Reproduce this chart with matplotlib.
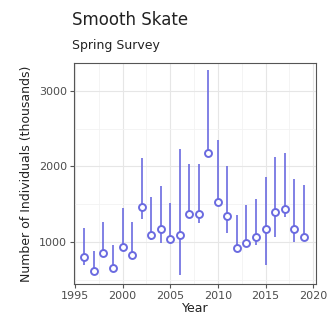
import numpy as np
import matplotlib.pyplot as plt
from matplotlib.ticker import MultipleLocator

# survey index by year
years = [1996, 1997, 1998, 1999, 2000, 2001, 2002, 2003, 2004, 2005, 2006, 2007,
         2008, 2009, 2010, 2011, 2012, 2013, 2014, 2015, 2016, 2017, 2018, 2019]
index = [797, 616, 850, 651, 934, 828, 1468, 1093, 1168, 1036, 1093, 1371,
         1371, 2175, 1534, 1349, 916, 982, 1071, 1168, 1390, 1433, 1168, 1071]
lower = [695, 580, 800, 620, 880, 800, 1300, 1026, 980, 1000, 563, 1330,
         1247, 2175, 1500, 1123, 900, 960, 960, 695, 1071, 1336, 1004, 1050]
upper = [1190, 885, 1260, 960, 1446, 1260, 2108, 1600, 1746, 1520, 2228, 2029,
         2029, 3270, 2351, 2007, 1358, 1490, 1565, 1865, 2130, 2175, 1830, 1755]

col = '#6a6ae0'

fig = plt.figure(figsize=(3.33, 3.29), dpi=100)
ax = fig.add_axes([0.222, 0.137, 0.727, 0.672])

ax.vlines(years, lower, upper, color=col, lw=1.4, alpha=0.85, zorder=2)
ax.plot(years, index, 'o', ms=5, mfc='white', mec=col, mew=1.4, zorder=3)

ax.set_xlim(1994.9, 2020.3)
ax.set_ylim(444, 3371)
ax.xaxis.set_major_locator(MultipleLocator(5))
ax.xaxis.set_minor_locator(MultipleLocator(2.5))
ax.yaxis.set_major_locator(MultipleLocator(1000))
ax.yaxis.set_minor_locator(MultipleLocator(500))
ax.grid(which='major', color='#e6e6e6', lw=0.8)
ax.grid(which='minor', color='#f2f2f2', lw=0.6)
ax.set_axisbelow(True)
ax.tick_params(which='minor', length=0)
ax.tick_params(which='major', length=3, color='#555555', labelsize=8, labelcolor='#4d4d4d', pad=2)
for s in ax.spines.values():
    s.set_color('#555555')
    s.set_linewidth(0.8)

ax.set_xlabel('Year', fontsize=9, color='#222222', labelpad=1)
ax.set_ylabel('Number of Individuals (thousands)', fontsize=9, color='#222222', labelpad=4)

fig.text(0.216, 0.924, 'Smooth Skate', fontsize=12, color='#222222', va='baseline')
fig.text(0.216, 0.851, 'Spring Survey', fontsize=9, color='#222222', va='baseline')

fig.savefig('out.png', dpi=100)
